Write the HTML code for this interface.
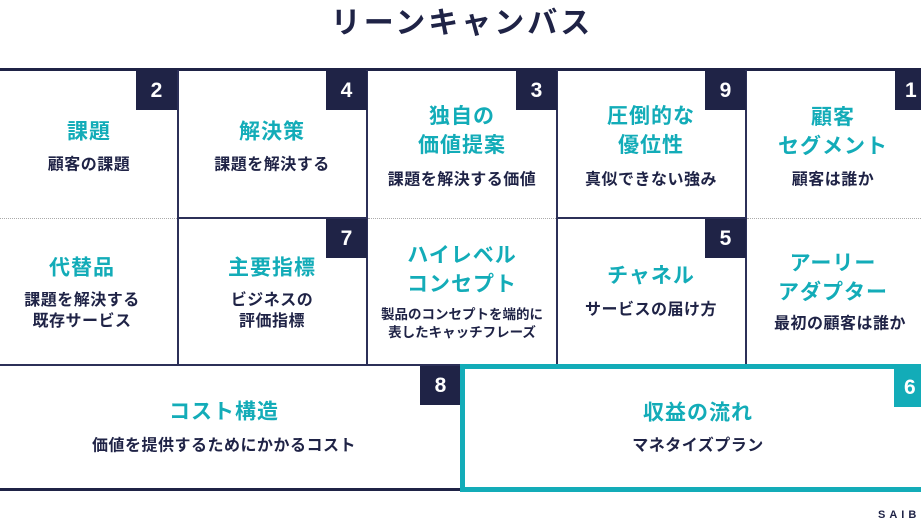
<!DOCTYPE html>
<html><head><meta charset="utf-8"><style>
body{margin:0;width:921px;height:518px;background:#fff;position:relative;overflow:hidden;font-family:"Liberation Sans","Noto Sans CJK JP",sans-serif;}
.a{position:absolute}
.t{position:absolute;transform:translate(-50%,-50%);text-align:center;white-space:nowrap;font-weight:bold}
.h{color:#13acb8;font-size:21px;line-height:29px;letter-spacing:1px}
.s{color:#1f2346;font-size:16px;line-height:21px;letter-spacing:0.5px}
.b{position:absolute;width:41px;height:39px;background:#1f2346;color:#fff;font-weight:bold;font-size:21px;line-height:39px;text-align:center}
.v{position:absolute;width:2px;background:#2c3058}
.hl{position:absolute;height:2px;background:#2c3058}
.d{position:absolute;border-top:1px dotted #aaa}
</style></head><body>
<div class="t" style="left:462px;top:20px;font-size:30px;color:#1f2346;letter-spacing:3px">リーンキャンバス</div>
<div class="hl" style="left:0;top:68px;width:921px;height:3px;background:#1f2346"></div>
<div class="v" style="left:177px;top:70px;height:295px"></div>
<div class="v" style="left:366px;top:70px;height:295px"></div>
<div class="v" style="left:556px;top:70px;height:295px"></div>
<div class="v" style="left:745px;top:70px;height:295px"></div>
<div class="d" style="left:0;top:218px;width:177px"></div>
<div class="d" style="left:368px;top:218px;width:188px"></div>
<div class="d" style="left:747px;top:218px;width:174px"></div>
<div class="hl" style="left:177px;top:217px;width:190px"></div>
<div class="hl" style="left:556px;top:217px;width:190px"></div>
<div class="hl" style="left:0;top:364px;width:921px"></div>
<div class="hl" style="left:0;top:488px;width:470px;height:3px;background:#1f2346"></div>
<div class="b" style="left:136px;top:71px">2</div>
<div class="b" style="left:326px;top:71px">4</div>
<div class="b" style="left:516px;top:71px">3</div>
<div class="b" style="left:705px;top:71px">9</div>
<div class="b" style="left:895px;top:71px;text-align:left;padding-left:10px">1</div>
<div class="b" style="left:326px;top:219px">7</div>
<div class="b" style="left:705px;top:219px">5</div>
<div class="b" style="left:420px;top:366px">8</div>
<div class="a" style="left:460px;top:364px;width:461px;height:128px;box-sizing:border-box;border:5px solid #13acb8;border-right:none"></div>
<div class="b" style="left:894px;top:368px;background:#13acb8;text-align:left;padding-left:10px">6</div>
<div class="t h" style="left:89px;top:132px">課題</div>
<div class="t s" style="left:89px;top:165px">顧客の課題</div>
<div class="t h" style="left:272px;top:132px">解決策</div>
<div class="t s" style="left:272px;top:165px">課題を解決する</div>
<div class="t h" style="left:462px;top:131px">独自の<br>価値提案</div>
<div class="t s" style="left:462px;top:180px">課題を解決する価値</div>
<div class="t h" style="left:651px;top:131px">圧倒的な<br>優位性</div>
<div class="t s" style="left:651px;top:180px">真似できない強み</div>
<div class="t h" style="left:833px;top:132px">顧客<br>セグメント</div>
<div class="t s" style="left:833px;top:180px">顧客は誰か</div>
<div class="t h" style="left:82px;top:268px">代替品</div>
<div class="t s" style="left:82px;top:311px">課題を解決する<br>既存サービス</div>
<div class="t h" style="left:272px;top:268px">主要指標</div>
<div class="t s" style="left:272px;top:311px">ビジネスの<br>評価指標</div>
<div class="t h" style="left:462px;top:270px">ハイレベル<br>コンセプト</div>
<div class="t s" style="left:462px;top:324px;font-size:13.5px;line-height:18px;letter-spacing:0">製品のコンセプトを端的に<br>表したキャッチフレーズ</div>
<div class="t h" style="left:651px;top:276px">チャネル</div>
<div class="t s" style="left:651px;top:310px">サービスの届け方</div>
<div class="t h" style="left:833px;top:278px">アーリー<br>アダプター</div>
<div class="t s" style="left:840px;top:324px">最初の顧客は誰か</div>
<div class="t h" style="left:224px;top:412px">コスト構造</div>
<div class="t s" style="left:224px;top:446px">価値を提供するためにかかるコスト</div>
<div class="t h" style="left:698px;top:413px">収益の流れ</div>
<div class="t s" style="left:698px;top:446px">マネタイズプラン</div>
<div class="a" style="left:878px;top:509px;font-size:11px;font-weight:bold;letter-spacing:4px;color:#1f2346">SAIB</div>
</body></html>
